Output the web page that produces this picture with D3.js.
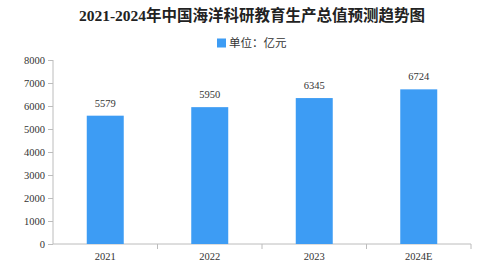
<!DOCTYPE html>
<html><head><meta charset="utf-8">
<script src="https://cdn.jsdelivr.net/npm/d3@7"></script>
<style>body{margin:0;background:#fff}svg{display:block}</style>
</head><body>
<svg id="c" width="504" height="271"></svg>
<script>
const titleText = "2021-2024年中国海洋科研教育生产总值预测趋势图";
const legendText = "单位：亿元";
const categories = ["2021", "2022", "2023", "2024E"];
const values = [5579, 5950, 6345, 6724];
const yTicks = [0, 1000, 2000, 3000, 4000, 5000, 6000, 7000, 8000];

const svg = d3.select("#c");
const W = 504, H = 271;
const m = {l: 53, r: 33, t: 60, b: 27};
const barColor = "#3d9cf4", axisColor = "#bcbcbc";
const serif = "Liberation Serif, DejaVu Serif, Noto Sans CJK SC, serif";

const x = d3.scaleBand().domain(categories).range([m.l, W - m.r]).paddingInner(0.646).paddingOuter(0.323);
const y = d3.scaleLinear().domain([0, 8000]).range([H - m.b, m.t]);

svg.append("text").attr("x", W / 2).attr("y", 21).attr("text-anchor", "middle")
  .attr("font-family", serif).attr("font-weight", "bold").attr("font-size", 15.5).attr("fill", "#222")
  .text(titleText);

const lg = svg.append("g");
lg.append("rect").attr("x", 217).attr("y", 38.5).attr("width", 9).attr("height", 9).attr("fill", barColor);
lg.append("text").attr("x", 229).attr("y", 47).attr("font-family", "Noto Sans CJK SC, sans-serif")
  .attr("font-size", 11.5).attr("fill", "#333").text(legendText);

// y axis
const ya = svg.append("g").attr("transform", `translate(${m.l},0)`)
  .call(d3.axisLeft(y).tickValues(yTicks).tickSize(5).tickPadding(3).tickFormat(d3.format("d")));
ya.attr("font-family", serif).attr("font-size", 10.5);
ya.select(".domain").attr("stroke", axisColor).attr("d", `M0,${y(8000)}V${y(0)}`);
ya.selectAll(".tick line").attr("stroke", axisColor);
ya.selectAll(".tick text").attr("fill", "#333");

// x axis
const xa = svg.append("g").attr("transform", `translate(0,${y(0)})`)
  .call(d3.axisBottom(x).tickSize(0).tickPadding(9));
xa.attr("font-family", serif).attr("font-size", 10.5);
xa.select(".domain").attr("stroke", axisColor).attr("d", `M${m.l},0H${W - m.r}`);
xa.selectAll(".tick text").attr("fill", "#333");
const step = x.step();
xa.selectAll(".sep").data(categories).enter().append("line").attr("class", "sep")
  .attr("x1", (d) => x(d) + x.bandwidth() / 2 + step / 2)
  .attr("x2", (d) => x(d) + x.bandwidth() / 2 + step / 2)
  .attr("y1", 0).attr("y2", 5).attr("stroke", axisColor);

// bars
svg.selectAll(".bar").data(values).enter().append("rect").attr("class", "bar")
  .attr("x", (d, i) => x(categories[i])).attr("width", x.bandwidth())
  .attr("y", (d) => y(d)).attr("height", (d) => y(0) - y(d)).attr("fill", barColor);

svg.selectAll(".val").data(values).enter().append("text").attr("class", "val")
  .attr("x", (d, i) => x(categories[i]) + x.bandwidth() / 2).attr("y", (d) => y(d) - 9)
  .attr("text-anchor", "middle").attr("font-family", serif).attr("font-size", 10.5).attr("fill", "#333")
  .text((d) => d);
</script>
</body></html>
